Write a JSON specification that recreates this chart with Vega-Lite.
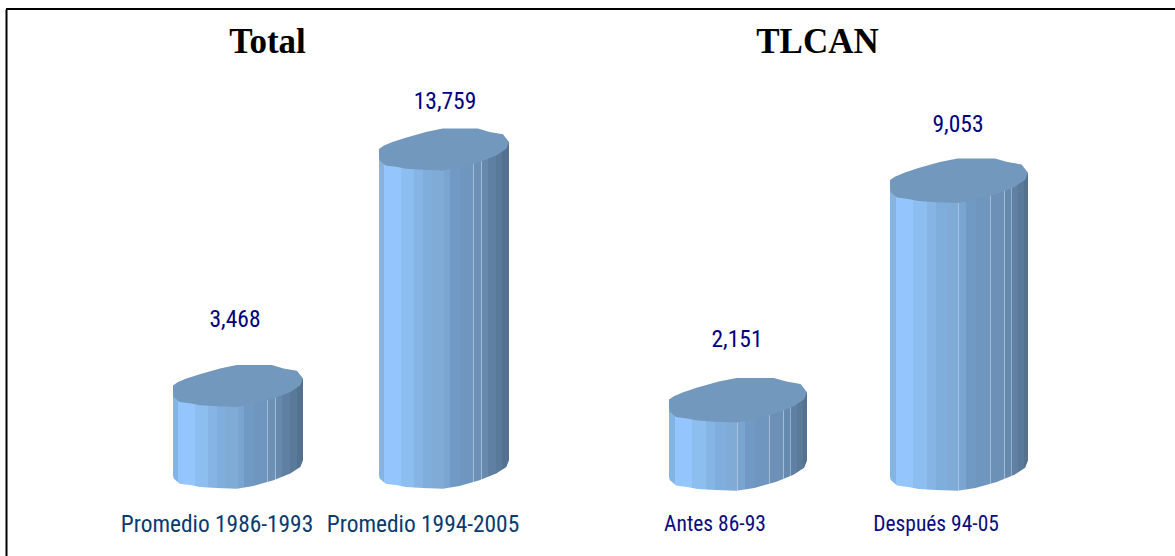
{
"$schema":"https://vega.github.io/schema/vega-lite/v6.json",
"width":1169,"height":547,
"autosize":{"type":"none"},
"padding":{"left":6,"top":9,"right":0,"bottom":0},
"background":"white",
"config":{"view":{"stroke":null}},
"data":{"values":[
{"grupo":"Total","categoria":"Promedio 1986-1993","valor":3468},
{"grupo":"Total","categoria":"Promedio 1994-2005","valor":13759},
{"grupo":"TLCAN","categoria":"Antes 86-93","valor":2151},
{"grupo":"TLCAN","categoria":"Después 94-05","valor":9053}
]},
"layer":[
{"transform":[{"filter":"datum.grupo==='Total'"}],
 "encoding":{
  "x":{"field":"categoria","type":"nominal","sort":null,
   "scale":{"type":"band","domain":["Promedio 1986-1993","Promedio 1994-2005"],"paddingInner":0,"paddingOuter":0,"range":[129,541]},
   "axis":{"title":"Total","titleX":261,"titleY":-504,"titleFont":"Liberation Serif","titleFontSize":35,"titleFontWeight":"bold","titleColor":"black","titleAlign":"center","titleBaseline":"alphabetic","domain":false,"ticks":false,"grid":false,"labelAngle":0,"labelFont":"Roboto Condensed, Roboto","labelFontSize":23.4,"labelLimit":400,"labelColor":"#0A3A6E","labelPadding":-43,"labelOffset":-21,"orient":"bottom"}},
  "y":{"field":"valor","type":"quantitative",
   "scale":{"domain":[-3951,19852],"nice":false,"zero":false},
   "axis":{"title":null,"labels":false,"ticks":false,"grid":false,"domain":true,"domainColor":"black","domainWidth":2,"orient":"left"}}
 },
 "layer":[
  {"mark":{"type":"bar","size":130,"fill":{"gradient":"linear","x1":0,"x2":1,"y1":0,"y2":0,"stops":[
   {"offset":0,"color":"#82B4E4"},{"offset":0.04,"color":"#82B4E4"},{"offset":0.04,"color":"#94C6FD"},{"offset":0.17,"color":"#94C6FD"},{"offset":0.17,"color":"#8DBEF0"},{"offset":0.27,"color":"#8DBEF0"},{"offset":0.27,"color":"#86B5E5"},{"offset":0.335,"color":"#86B5E5"},{"offset":0.335,"color":"#80AEDC"},{"offset":0.41,"color":"#80AEDC"},{"offset":0.41,"color":"#7FABD6"},{"offset":0.5,"color":"#7FABD6"},{"offset":0.5,"color":"#7AA5D0"},{"offset":0.55,"color":"#7AA5D0"},{"offset":0.55,"color":"#7099C3"},{"offset":0.62,"color":"#7099C3"},{"offset":0.62,"color":"#6E96BE"},{"offset":0.72,"color":"#6E96BE"},{"offset":0.72,"color":"#A3BBD3"},{"offset":0.727,"color":"#A3BBD3"},{"offset":0.727,"color":"#6C90B6"},{"offset":0.785,"color":"#6C90B6"},{"offset":0.785,"color":"#A3BBD3"},{"offset":0.792,"color":"#A3BBD3"},{"offset":0.792,"color":"#668AAE"},{"offset":0.835,"color":"#668AAE"},{"offset":0.835,"color":"#96AEC6"},{"offset":0.842,"color":"#96AEC6"},{"offset":0.842,"color":"#5F80A3"},{"offset":0.9,"color":"#5F80A3"},{"offset":0.9,"color":"#5A7A9A"},{"offset":0.95,"color":"#5A7A9A"},{"offset":0.95,"color":"#547290"},{"offset":1,"color":"#547290"}]}},"encoding":{"y2":{"datum":400}}},
  {"mark":{"type":"point","filled":true,"opacity":1,"size":16900,"shape":"M-1,-.3L-1,.124L-.99,.175L-.897,.253L-.716,.278L-.588,.304L-.33,.32L-.021,.33L.237,.289L.546,.201L.804,.098L.959,-.005L1,-.108L1,-.3Z","fill":{"gradient":"linear","x1":0,"x2":1,"y1":0,"y2":0,"stops":[
   {"offset":0,"color":"#82B4E4"},{"offset":0.04,"color":"#82B4E4"},{"offset":0.04,"color":"#94C6FD"},{"offset":0.17,"color":"#94C6FD"},{"offset":0.17,"color":"#8DBEF0"},{"offset":0.27,"color":"#8DBEF0"},{"offset":0.27,"color":"#86B5E5"},{"offset":0.335,"color":"#86B5E5"},{"offset":0.335,"color":"#80AEDC"},{"offset":0.41,"color":"#80AEDC"},{"offset":0.41,"color":"#7FABD6"},{"offset":0.5,"color":"#7FABD6"},{"offset":0.5,"color":"#7AA5D0"},{"offset":0.55,"color":"#7AA5D0"},{"offset":0.55,"color":"#7099C3"},{"offset":0.62,"color":"#7099C3"},{"offset":0.62,"color":"#6E96BE"},{"offset":0.72,"color":"#6E96BE"},{"offset":0.72,"color":"#A3BBD3"},{"offset":0.727,"color":"#A3BBD3"},{"offset":0.727,"color":"#6C90B6"},{"offset":0.785,"color":"#6C90B6"},{"offset":0.785,"color":"#A3BBD3"},{"offset":0.792,"color":"#A3BBD3"},{"offset":0.792,"color":"#668AAE"},{"offset":0.835,"color":"#668AAE"},{"offset":0.835,"color":"#96AEC6"},{"offset":0.842,"color":"#96AEC6"},{"offset":0.842,"color":"#5F80A3"},{"offset":0.9,"color":"#5F80A3"},{"offset":0.9,"color":"#5A7A9A"},{"offset":0.95,"color":"#5A7A9A"},{"offset":0.95,"color":"#547290"},{"offset":1,"color":"#547290"}]}},
   "encoding":{"y":{"datum":-87}}},
  {"mark":{"type":"point","filled":true,"opacity":1,"size":16900,"shape":"M-1,.5L-1,.124L1,-.108L1,.5Z","fill":{"gradient":"linear","x1":0,"x2":1,"y1":0,"y2":0,"stops":[
   {"offset":0,"color":"#82B4E4"},{"offset":0.04,"color":"#82B4E4"},{"offset":0.04,"color":"#94C6FD"},{"offset":0.17,"color":"#94C6FD"},{"offset":0.17,"color":"#8DBEF0"},{"offset":0.27,"color":"#8DBEF0"},{"offset":0.27,"color":"#86B5E5"},{"offset":0.335,"color":"#86B5E5"},{"offset":0.335,"color":"#80AEDC"},{"offset":0.41,"color":"#80AEDC"},{"offset":0.41,"color":"#7FABD6"},{"offset":0.5,"color":"#7FABD6"},{"offset":0.5,"color":"#7AA5D0"},{"offset":0.55,"color":"#7AA5D0"},{"offset":0.55,"color":"#7099C3"},{"offset":0.62,"color":"#7099C3"},{"offset":0.62,"color":"#6E96BE"},{"offset":0.72,"color":"#6E96BE"},{"offset":0.72,"color":"#A3BBD3"},{"offset":0.727,"color":"#A3BBD3"},{"offset":0.727,"color":"#6C90B6"},{"offset":0.785,"color":"#6C90B6"},{"offset":0.785,"color":"#A3BBD3"},{"offset":0.792,"color":"#A3BBD3"},{"offset":0.792,"color":"#668AAE"},{"offset":0.835,"color":"#668AAE"},{"offset":0.835,"color":"#96AEC6"},{"offset":0.842,"color":"#96AEC6"},{"offset":0.842,"color":"#5F80A3"},{"offset":0.9,"color":"#5F80A3"},{"offset":0.9,"color":"#5A7A9A"},{"offset":0.95,"color":"#5A7A9A"},{"offset":0.95,"color":"#547290"},{"offset":1,"color":"#547290"}]}}},
  {"mark":{"type":"point","filled":true,"opacity":1,"size":16900,"color":"#7398BE","shape":"M-1,.124L-1,0L-.93,-.05L-.794,-.108L-.588,-.175L-.278,-.263L-.021,-.314L.521,-.314L.701,-.263L.907,-.227L1,-.108L.959,-.005L.804,.098L.546,.201L.237,.289L-.021,.33L-.33,.32L-.588,.304L-.716,.278L-.897,.253L-.99,.175Z"}},
  {"transform":[{"filter":"datum.valor===3468"}],"mark":{"type":"text","font":"Roboto Condensed, Roboto","fontSize":23.5,"color":"#000080","baseline":"middle","dy":-66,"dx":-3},"encoding":{"text":{"field":"valor","type":"quantitative","format":","}}},
  {"transform":[{"filter":"datum.valor===13759"}],"mark":{"type":"text","font":"Roboto Condensed, Roboto","fontSize":23.5,"color":"#000080","baseline":"middle","dy":-47,"dx":1},"encoding":{"text":{"field":"valor","type":"quantitative","format":","}}},
  {"mark":{"type":"rule","color":"black","strokeWidth":2},"encoding":{"x":null,"y":{"datum":19852}}}
 ]},
{"transform":[{"filter":"datum.grupo==='TLCAN'"}],
 "encoding":{
  "x":{"field":"categoria","type":"nominal","sort":null,
   "scale":{"type":"band","domain":["Antes 86-93","Después 94-05"],"paddingInner":0,"paddingOuter":0,"range":[621.5,1063.5]},
   "axis":{"title":"TLCAN","titleX":811,"titleY":-504,"titleFont":"Liberation Serif","titleFontSize":35,"titleFontWeight":"bold","titleColor":"black","titleAlign":"center","titleBaseline":"alphabetic","domain":false,"ticks":false,"grid":false,"labelAngle":0,"labelFont":"Roboto Condensed, Roboto","labelFontSize":21.5,"labelLimit":400,"labelColor":"#0B0B80","labelPadding":-43,"labelOffset":-23,"orient":"bottom"}},
  "y":{"field":"valor","type":"quantitative",
   "scale":{"domain":[-2767,14434],"nice":false,"zero":false},
   "axis":null}
 },
 "layer":[
  {"mark":{"type":"bar","size":138,"fill":{"gradient":"linear","x1":0,"x2":1,"y1":0,"y2":0,"stops":[
   {"offset":0,"color":"#82B4E4"},{"offset":0.04,"color":"#82B4E4"},{"offset":0.04,"color":"#94C6FD"},{"offset":0.17,"color":"#94C6FD"},{"offset":0.17,"color":"#8DBEF0"},{"offset":0.27,"color":"#8DBEF0"},{"offset":0.27,"color":"#86B5E5"},{"offset":0.335,"color":"#86B5E5"},{"offset":0.335,"color":"#80AEDC"},{"offset":0.41,"color":"#80AEDC"},{"offset":0.41,"color":"#7FABD6"},{"offset":0.495,"color":"#7FABD6"},{"offset":0.495,"color":"#A9C4DE"},{"offset":0.502,"color":"#A9C4DE"},{"offset":0.502,"color":"#7AA5D0"},{"offset":0.55,"color":"#7AA5D0"},{"offset":0.55,"color":"#7099C3"},{"offset":0.62,"color":"#7099C3"},{"offset":0.62,"color":"#6E96BE"},{"offset":0.725,"color":"#6E96BE"},{"offset":0.725,"color":"#A3BBD3"},{"offset":0.732,"color":"#A3BBD3"},{"offset":0.732,"color":"#6C90B6"},{"offset":0.825,"color":"#6C90B6"},{"offset":0.825,"color":"#A3BBD3"},{"offset":0.832,"color":"#A3BBD3"},{"offset":0.832,"color":"#668AAE"},{"offset":0.875,"color":"#668AAE"},{"offset":0.875,"color":"#96AEC6"},{"offset":0.882,"color":"#96AEC6"},{"offset":0.882,"color":"#5F80A3"},{"offset":0.93,"color":"#5F80A3"},{"offset":0.93,"color":"#5A7A9A"},{"offset":0.97,"color":"#5A7A9A"},{"offset":0.97,"color":"#547290"},{"offset":1,"color":"#547290"}]}},"encoding":{"y2":{"datum":300}}},
  {"mark":{"type":"point","filled":true,"opacity":1,"size":19044,"shape":"M-1,-.3L-1,.124L-.99,.175L-.897,.253L-.716,.278L-.588,.304L-.33,.32L-.021,.33L.237,.289L.546,.201L.804,.098L.959,-.005L1,-.108L1,-.3Z","fill":{"gradient":"linear","x1":0,"x2":1,"y1":0,"y2":0,"stops":[
   {"offset":0,"color":"#82B4E4"},{"offset":0.04,"color":"#82B4E4"},{"offset":0.04,"color":"#94C6FD"},{"offset":0.17,"color":"#94C6FD"},{"offset":0.17,"color":"#8DBEF0"},{"offset":0.27,"color":"#8DBEF0"},{"offset":0.27,"color":"#86B5E5"},{"offset":0.335,"color":"#86B5E5"},{"offset":0.335,"color":"#80AEDC"},{"offset":0.41,"color":"#80AEDC"},{"offset":0.41,"color":"#7FABD6"},{"offset":0.495,"color":"#7FABD6"},{"offset":0.495,"color":"#A9C4DE"},{"offset":0.502,"color":"#A9C4DE"},{"offset":0.502,"color":"#7AA5D0"},{"offset":0.55,"color":"#7AA5D0"},{"offset":0.55,"color":"#7099C3"},{"offset":0.62,"color":"#7099C3"},{"offset":0.62,"color":"#6E96BE"},{"offset":0.725,"color":"#6E96BE"},{"offset":0.725,"color":"#A3BBD3"},{"offset":0.732,"color":"#A3BBD3"},{"offset":0.732,"color":"#6C90B6"},{"offset":0.825,"color":"#6C90B6"},{"offset":0.825,"color":"#A3BBD3"},{"offset":0.832,"color":"#A3BBD3"},{"offset":0.832,"color":"#668AAE"},{"offset":0.875,"color":"#668AAE"},{"offset":0.875,"color":"#96AEC6"},{"offset":0.882,"color":"#96AEC6"},{"offset":0.882,"color":"#5F80A3"},{"offset":0.93,"color":"#5F80A3"},{"offset":0.93,"color":"#5A7A9A"},{"offset":0.97,"color":"#5A7A9A"},{"offset":0.97,"color":"#547290"},{"offset":1,"color":"#547290"}]}},
   "encoding":{"y":{"datum":0}}},
  {"mark":{"type":"point","filled":true,"opacity":1,"size":19044,"shape":"M-1,.5L-1,.124L1,-.108L1,.5Z","fill":{"gradient":"linear","x1":0,"x2":1,"y1":0,"y2":0,"stops":[
   {"offset":0,"color":"#82B4E4"},{"offset":0.04,"color":"#82B4E4"},{"offset":0.04,"color":"#94C6FD"},{"offset":0.17,"color":"#94C6FD"},{"offset":0.17,"color":"#8DBEF0"},{"offset":0.27,"color":"#8DBEF0"},{"offset":0.27,"color":"#86B5E5"},{"offset":0.335,"color":"#86B5E5"},{"offset":0.335,"color":"#80AEDC"},{"offset":0.41,"color":"#80AEDC"},{"offset":0.41,"color":"#7FABD6"},{"offset":0.495,"color":"#7FABD6"},{"offset":0.495,"color":"#A9C4DE"},{"offset":0.502,"color":"#A9C4DE"},{"offset":0.502,"color":"#7AA5D0"},{"offset":0.55,"color":"#7AA5D0"},{"offset":0.55,"color":"#7099C3"},{"offset":0.62,"color":"#7099C3"},{"offset":0.62,"color":"#6E96BE"},{"offset":0.725,"color":"#6E96BE"},{"offset":0.725,"color":"#A3BBD3"},{"offset":0.732,"color":"#A3BBD3"},{"offset":0.732,"color":"#6C90B6"},{"offset":0.825,"color":"#6C90B6"},{"offset":0.825,"color":"#A3BBD3"},{"offset":0.832,"color":"#A3BBD3"},{"offset":0.832,"color":"#668AAE"},{"offset":0.875,"color":"#668AAE"},{"offset":0.875,"color":"#96AEC6"},{"offset":0.882,"color":"#96AEC6"},{"offset":0.882,"color":"#5F80A3"},{"offset":0.93,"color":"#5F80A3"},{"offset":0.93,"color":"#5A7A9A"},{"offset":0.97,"color":"#5A7A9A"},{"offset":0.97,"color":"#547290"},{"offset":1,"color":"#547290"}]}}},
  {"mark":{"type":"point","filled":true,"opacity":1,"size":19044,"color":"#7398BE","shape":"M-1,.124L-1,0L-.93,-.05L-.794,-.108L-.588,-.175L-.278,-.263L-.021,-.314L.521,-.314L.701,-.263L.907,-.227L1,-.108L.959,-.005L.804,.098L.546,.201L.237,.289L-.021,.33L-.33,.32L-.588,.304L-.716,.278L-.897,.253L-.99,.175Z"}},
  {"transform":[{"filter":"datum.valor===2151"}],"mark":{"type":"text","font":"Roboto Condensed, Roboto","fontSize":23.5,"color":"#000080","baseline":"middle","dy":-60,"dx":-1},"encoding":{"text":{"field":"valor","type":"quantitative","format":","}}},
  {"transform":[{"filter":"datum.valor===9053"}],"mark":{"type":"text","font":"Roboto Condensed, Roboto","fontSize":23.5,"color":"#000080","baseline":"middle","dy":-55,"dx":-1},"encoding":{"text":{"field":"valor","type":"quantitative","format":","}}}
 ]}
],
"resolve":{"scale":{"x":"independent","y":"independent"},"axis":{"x":"independent","y":"independent"}}
}
